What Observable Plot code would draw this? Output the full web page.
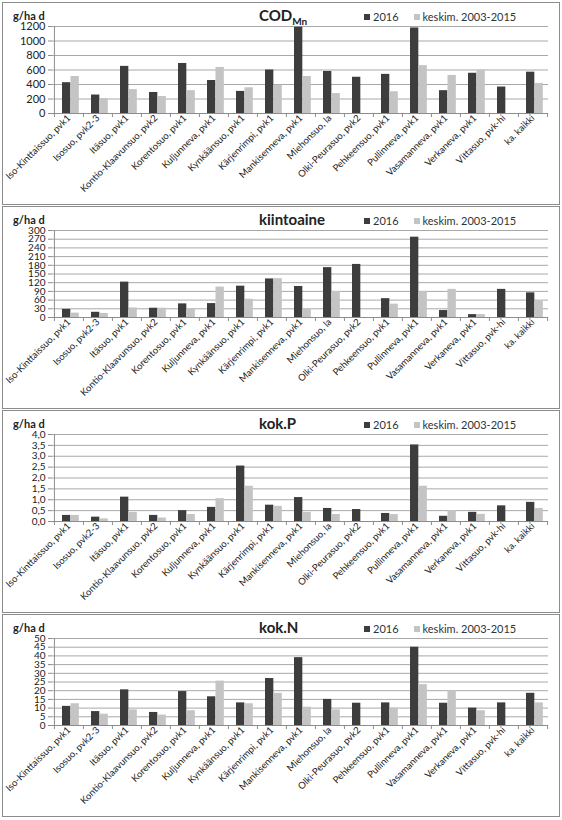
<!DOCTYPE html>
<html><head><meta charset="utf-8">
<script src="https://cdn.jsdelivr.net/npm/d3@7"></script>
<script src="https://cdn.jsdelivr.net/npm/@observablehq/plot@0.6"></script>
<style>
body{margin:0;background:#fff;font-family:Lato,"Open Sans",sans-serif;}
#wrap{position:absolute;left:2px;top:2px;}
.panel{position:relative;width:556px;height:201px;border:1px solid #8c8c8c;margin-bottom:1px;background:#fff;overflow:hidden}
.panel svg{position:absolute;left:0;top:0}
.unit{position:absolute;left:10px;top:6px;font-weight:bold;font-size:11px;color:#222;z-index:2}
.title{position:absolute;left:256px;top:3px;font-weight:bold;font-size:15px;color:#222;z-index:2;white-space:nowrap}
.title sub{font-size:10px}
.legend{position:absolute;left:361px;top:7px;font-size:11px;color:#333;z-index:2;white-space:nowrap}
.sw{display:inline-block;width:6px;height:6px;margin-right:3px;vertical-align:1px}
</style>
</head><body>
<div id="wrap"></div>
<script>
const categories = ["Iso-Kinttaissuo, pvk1","Isosuo, pvk2-3","Itäsuo, pvk1","Kontio-Klaavunsuo, pvk2","Korentosuo, pvk1","Kuljunneva, pvk1","Kynkäänsuo, pvk1","Kärjenrimpi, pvk1","Mankisenneva, pvk1","Miehonsuo, la","Olki-Peurasuo, pvk2","Pehkeensuo, pvk1","Pullinneva, pvk1","Vasamanneva, pvk1","Verkaneva, pvk1","Vittasuo, pvk-hi","ka. kaikki"];
const seriesNames = ["2016","keskim. 2003-2015"];
const unitLabel = "g/ha d";

const cod2016 = [425,255,650,290,690,455,305,600,1190,580,500,540,1180,315,555,365,570];
const codAvg  = [510,205,330,235,315,635,355,390,510,275,null,300,660,525,600,null,415];
const kiinto2016 = [28,18,122,32,47,48,108,133,107,172,183,65,277,24,10,97,85];
const kiintoAvg  = [15,14,33,32,30,105,63,134,30,90,null,46,90,97,10,null,56];
const p2016 = [0.28,0.2,1.12,0.28,0.5,0.65,2.55,0.75,1.1,0.6,0.55,0.37,3.52,0.24,0.42,0.72,0.88];
const pAvg  = [0.28,0.12,0.42,0.16,0.32,1.05,1.62,0.7,0.42,0.32,null,0.32,1.62,0.5,0.33,null,0.6];
const n2016 = [11,8,20.5,7.5,19.5,16.5,13,27,39,15,12.8,13,45,12.8,10,13,18.5];
const nAvg  = [12.5,6.5,9,6,8.5,25.5,12.5,18.5,10.5,9,null,10,23.5,20,8.5,null,13];

const codTicks = [0,200,400,600,800,1000,1200];
const kiintoTicks = [0,30,60,90,120,150,180,210,240,270,300];
const pTicks = [0,0.5,1,1.5,2,2.5,3,3.5,4];
const nTicks = [0,5,10,15,20,25,30,35,40,45,50];

const colDark = "#3d3d3d", colLight = "#c4c4c4";

function makePanel(titleHtml, v2016, vAvg, ticks, fmt, tickFont) {
  const div = document.createElement("div");
  div.className = "panel";
  div.innerHTML = `<div class="unit">${unitLabel}</div><div class="title">${titleHtml}</div>
    <div class="legend"><span class="sw" style="background:${colDark}"></span>${seriesNames[0]}<span style="display:inline-block;width:15px"></span><span class="sw" style="background:${colLight}"></span>${seriesNames[1]}</div>`;
  const rows = categories.map((c, i) => ({c, a: v2016[i], b: vAvg[i]}));
  const W = 556, ml = 49, mr = 11;
  const step = (W - ml - mr) / categories.length;
  const top = ticks[ticks.length - 1];
  const chart = Plot.plot({
    width: W, height: 201, marginTop: 23, marginBottom: 91, marginLeft: ml, marginRight: mr,
    style: {fontFamily: "Lato, 'Open Sans', sans-serif", fontSize: "10px", color: "#222", background: "transparent", overflow: "visible"},
    x: {domain: categories, padding: 0, label: null},
    y: {domain: [0, top], label: null},
    marks: [
      Plot.ruleY(ticks, {stroke: "#a8a8a8", strokeWidth: 1}),
      Plot.barY(rows.filter(d => d.a != null), {x: "c", y: "a", fill: colDark, insetLeft: 8, insetRight: step - 16.5}),
      Plot.barY(rows.filter(d => d.b != null), {x: "c", y: "b", fill: colLight, insetLeft: 16.5, insetRight: step - 25}),
      Plot.ruleX([categories[0]], {dx: -step / 2, y1: 0, y2: top, stroke: "#8c8c8c"}),
      Plot.ruleX(categories, {dx: -step / 2, y1: 0, y2: 0, insetBottom: -4, stroke: "#8c8c8c"}),
      Plot.ruleX([categories[categories.length - 1]], {dx: step / 2, y1: 0, y2: 0, insetBottom: -4, stroke: "#8c8c8c"}),
      Plot.ruleY([0], {stroke: "#8c8c8c"}),
      Plot.axisY({ticks, tickFormat: fmt, tickSize: 4, tickPadding: 3, label: null, stroke: "#8c8c8c", fontSize: tickFont, fill: "#222"}),
      Plot.axisX({tickRotate: -45, tickSize: 0, tickPadding: 3, label: null, fontSize: "9.5px", fill: "#222"})
    ]
  });
  div.appendChild(chart);
  document.getElementById("wrap").appendChild(div);
}

makePanel("COD<sub>Mn</sub>", cod2016, codAvg, codTicks, d => String(d), "11px");
makePanel("kiintoaine", kiinto2016, kiintoAvg, kiintoTicks, d => String(d), "10px");
makePanel("kok.P", p2016, pAvg, pTicks, d => d.toFixed(1).replace(".", ","), "10px");
makePanel("kok.N", n2016, nAvg, nTicks, d => String(d), "10px");
</script>
</body></html>
